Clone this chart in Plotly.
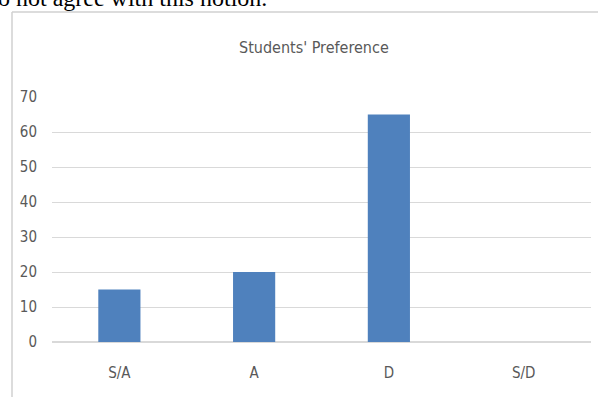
import plotly.graph_objects as go

categories = ["S/A", "A", "D", "S/D"]
values = [15, 20, 65, 0]
y_ticks = [0, 10, 20, 30, 40, 50, 60, 70]
title_text = "Students' Preference"
caption_text = "o not agree with this notion."

W, H = 598, 397
ML, MR, MT, MB = 52, 7, 97, 55
PW = W - ML - MR
PH = H - MT - MB

def px_to_paper_x(px):
    return (px - ML) / PW

def py_to_paper_y(py):
    return (H - MB - py) / PH

FONT = "DejaVu Sans Condensed, Roboto Condensed, Roboto, sans-serif"
GRAY = "#595959"

fig = go.Figure(
    go.Bar(
        x=categories,
        y=values,
        marker=dict(color="#4f81bd", line=dict(width=0)),
        width=0.313,
    )
)

fig.update_layout(
    width=W,
    height=H,
    margin=dict(l=ML, r=MR, t=MT, b=MB, pad=0),
    paper_bgcolor="white",
    plot_bgcolor="white",
    showlegend=False,
    bargap=0.687,
    font=dict(family=FONT, color=GRAY, size=15),
)

fig.update_yaxes(
    range=[0, 70],
    tickvals=y_ticks,
    showgrid=True,
    gridcolor="#d9d9d9",
    gridwidth=1.2,
    zeroline=True,
    zerolinecolor="#d9d9d9",
    zerolinewidth=1.5,
    showline=False,
    ticks="",
    ticklabelstandoff=14,
    tickfont=dict(family=FONT, size=15, color=GRAY),
    fixedrange=True,
)
fig.update_xaxes(
    showgrid=False,
    showline=False,
    ticks="",
    ticklabelstandoff=20,
    tickfont=dict(family=FONT, size=15, color=GRAY),
    fixedrange=True,
)

# chart title
fig.add_annotation(
    text=title_text,
    xref="paper", yref="paper",
    x=px_to_paper_x(314), y=py_to_paper_y(47),
    xanchor="center", yanchor="middle",
    showarrow=False,
    font=dict(family=FONT, size=16, color=GRAY),
)

# surrounding document text, partly outside the picture as in the reference
fig.add_annotation(
    text=caption_text,
    xref="paper", yref="paper",
    x=px_to_paper_x(-4), y=py_to_paper_y(13),
    xanchor="left", yanchor="bottom",
    showarrow=False,
    font=dict(family="Liberation Serif, Times New Roman, serif", size=24, color="black"),
)

# chart frame (top and left edges)
fig.add_shape(
    type="line", xref="paper", yref="paper",
    x0=px_to_paper_x(12), x1=px_to_paper_x(600),
    y0=py_to_paper_y(12), y1=py_to_paper_y(12),
    line=dict(color="#d0d0d0", width=1.5),
)
fig.add_shape(
    type="line", xref="paper", yref="paper",
    x0=px_to_paper_x(12), x1=px_to_paper_x(12),
    y0=py_to_paper_y(12), y1=py_to_paper_y(400),
    line=dict(color="#d0d0d0", width=1.5),
)

fig.write_html("out.html")
